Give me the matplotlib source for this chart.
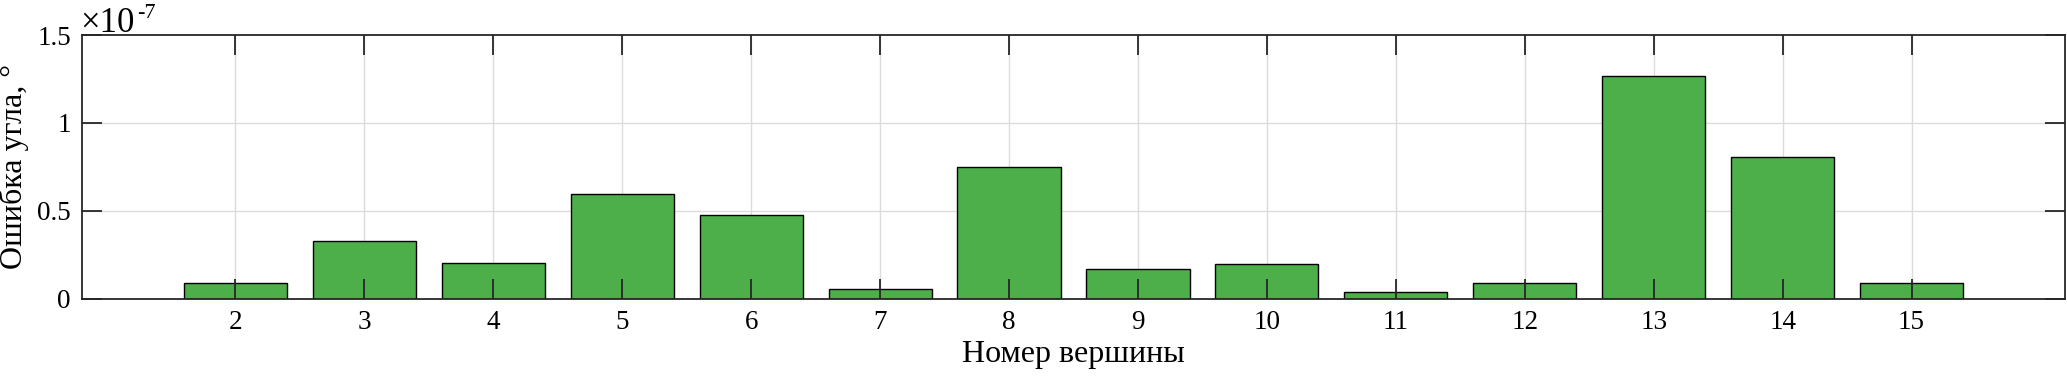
import matplotlib
matplotlib.use('Agg')
import matplotlib.pyplot as plt
import numpy as np

# Номера вершин и ошибки угла (в единицах 1e-7 градуса)
vertices = [2, 3, 4, 5, 6, 7, 8, 9, 10, 11, 12, 13, 14, 15]
errors = [0.09, 0.327, 0.203, 0.595, 0.475, 0.052, 0.746, 0.166, 0.195,
          0.038, 0.087, 1.266, 0.803, 0.091]
yticks = [0, 0.5, 1, 1.5]

plt.rcParams['font.family'] = ['Liberation Serif', 'DejaVu Serif']

fig = plt.figure(figsize=(20.67, 3.81), dpi=100)
ax = fig.add_axes([82 / 2067, 1 - 298.5 / 381, (2065 - 82) / 2067, (298.5 - 35) / 381])

ax.bar(vertices, errors, width=0.8, color='#4daf4a', edgecolor='black',
       linewidth=1.0, zorder=2)

ax.set_xlim(0.81, 16.19)
ax.set_ylim(0, 1.5)
ax.set_xticks(vertices)
ax.set_yticks(yticks)
ax.set_yticklabels(['0', '0.5', '1', '1.5'])

# сетка под столбцами
for xv in vertices:
    ax.axvline(xv, color='#dcdcdc', linewidth=1.0, zorder=0.5)
for yv in yticks[1:-1]:
    ax.axhline(yv, color='#dcdcdc', linewidth=1.0, zorder=0.5)

ax.tick_params(direction='in', length=14.5, width=1.3, color='#262626',
               top=True, right=True, labelsize=19.5, pad=8)
for s in ax.spines.values():
    s.set_color('#262626')
    s.set_linewidth(1.3)
ax.set_axisbelow(False)

ax.set_xlabel('Номер вершины', fontsize=23, labelpad=4)
ax.set_ylabel('Ошибка угла, °', fontsize=23, labelpad=6)

# множитель как в MATLAB
ax.annotate('×10', xy=(0.0, 1.0), xycoords='axes fraction', xytext=(-1, 2),
            textcoords='offset points', fontsize=25, ha='left', va='baseline')
ax.annotate('-7', xy=(0.0, 1.0), xycoords='axes fraction', xytext=(39.5, 12),
            textcoords='offset points', fontsize=16, ha='left', va='baseline')

fig.savefig('out.png', dpi=100)
